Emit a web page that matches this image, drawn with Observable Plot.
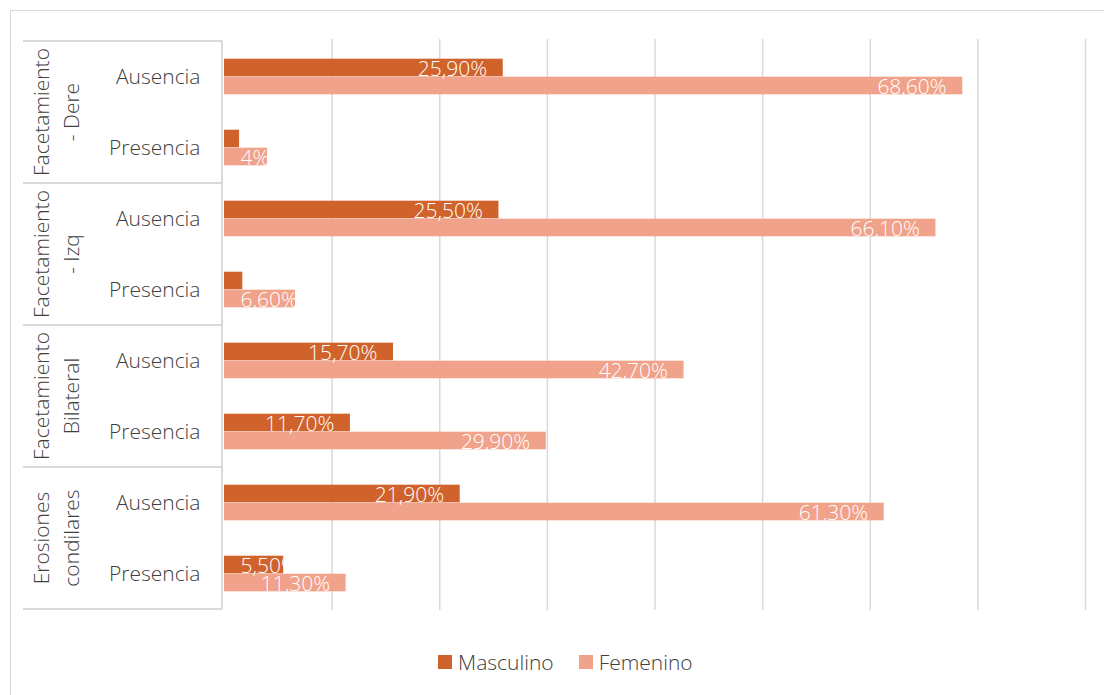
<!DOCTYPE html>
<html>
<head>
<meta charset="utf-8">
<script src="https://cdn.jsdelivr.net/npm/d3@7"></script>
<script src="https://cdn.jsdelivr.net/npm/@observablehq/plot@0.6"></script>
<style>
  html, body { margin: 0; padding: 0; background: #fff; width: 1104px; height: 695px; overflow: hidden; }
  body { position: relative; font-family: "Open Sans", "Noto Sans", sans-serif; }
  #frame { position: absolute; left: 10px; top: 10px; width: 1120px; height: 720px; border: 1.5px solid #d9d9d9; box-sizing: border-box; }
  #chart { position: absolute; left: 0; top: 0; }
  #legend { position: absolute; top: 648px; left: 438px; display: flex; gap: 25px; font-size: 21px; font-weight: 300; color: #404040; }
  #legend .item { display: flex; align-items: center; gap: 6px; }
  #legend .sw { width: 14px; height: 14px; display: inline-block; }
</style>
</head>
<body>
<div id="frame"></div>
<div id="chart"></div>
<div id="legend"></div>
<script>
const groupLines = [["Facetamiento", "- Dere"], ["Facetamiento", "- Izq"], ["Facetamiento", "Bilateral"], ["Erosiones", "condilares"]];
const subs = ["Ausencia", "Presencia"];
const series = ["Masculino", "Femenino"];
const colors = ["#d0632b", "#f0a28a"];
const masculino = [25.9, 1.4, 25.5, 1.7, 15.7, 11.7, 21.9, 5.5];
const femenino = [68.6, 4, 66.1, 6.6, 42.7, 29.9, 61.3, 11.3];
// labels of the two tiniest bars are not legible in the reference (white on white)
const masculinoLabels = ["25,90%", "", "25,50%", "", "15,70%", "11,70%", "21,90%", "5,50%"];
const femeninoLabels = ["68,60%", "4%", "66,10%", "6,60%", "42,70%", "29,90%", "61,30%", "11,30%"];
const xTicks = [0, 10, 20, 30, 40, 50, 60, 70, 80];

const keys = [];
groupLines.forEach((g, gi) => subs.forEach(s => keys.push(gi + "|" + s)));

const data = [];
keys.forEach((k, i) => {
  data.push({key: k, sub: k.split("|")[1], series: series[0], value: masculino[i], label: masculinoLabels[i]});
  data.push({key: k, sub: k.split("|")[1], series: series[1], value: femenino[i], label: femeninoLabels[i]});
});

const W = 1104, H = 695, mt = 39, mb = 85, ml = 224, mr = 19;
const bw = (H - mt - mb) / keys.length;
const barH = 18;

const masc = data.filter(d => d.series === series[0] && d.label);
const fem = data.filter(d => d.series === series[1] && d.label);
const threshold = 8;

const textStyle = {fontSize: 21, fill: "white", fontWeight: 300};

const plot = Plot.plot({
  width: W, height: H,
  marginTop: mt, marginBottom: mb, marginLeft: ml, marginRight: mr,
  style: {fontFamily: "'Open Sans', 'Noto Sans', sans-serif", background: "transparent"},
  x: {domain: [0, 80], axis: null},
  y: {domain: keys, axis: null, padding: 0},
  color: {domain: series, range: colors},
  marks: [
    Plot.ruleX(xTicks.slice(1), {stroke: "#d9d9d9", strokeWidth: 1.5}),
    Plot.barX(data.filter(d => d.series === series[0]), {y: "key", x: "value", fill: "series", insetTop: bw / 2 - barH, insetBottom: bw / 2}),
    Plot.barX(data.filter(d => d.series === series[1]), {y: "key", x: "value", fill: "series", insetTop: bw / 2, insetBottom: bw / 2 - barH}),
    Plot.text(masc.filter(d => d.value >= threshold), {y: "key", x: "value", text: "label", dx: -16, dy: -8, textAnchor: "end", ...textStyle}),
    Plot.text(fem.filter(d => d.value >= threshold), {y: "key", x: "value", text: "label", dx: -16, dy: 10, textAnchor: "end", ...textStyle}),
    Plot.text(masc.filter(d => d.value < threshold), {y: "key", x: 0, text: "label", dx: 16, dy: -8, textAnchor: "start", ...textStyle}),
    Plot.text(fem.filter(d => d.value < threshold), {y: "key", x: 0, text: "label", dx: 16, dy: 10, textAnchor: "start", ...textStyle}),
    Plot.text(data.filter(d => d.series === series[0]), {y: "key", x: 0, text: "sub", dx: -24, textAnchor: "end", fontSize: 21, fontWeight: 300, fill: "#404040"})
  ]
});
document.getElementById("chart").appendChild(plot);

// category table: box lines and rotated group labels, positioned from the y scale
const y = plot.scale("y");
const svg = d3.select(plot);
const x0 = 23, x1 = 222;
const g = svg.append("g");
const boundaries = [];
groupLines.forEach((lines, gi) => {
  const top = y.apply(gi + "|" + subs[0]);
  const bottom = y.apply(gi + "|" + subs[subs.length - 1]) + y.bandwidth;
  boundaries.push(top);
  if (gi === groupLines.length - 1) boundaries.push(bottom);
  const cy = (top + bottom) / 2;
  const t = g.append("text")
    .attr("transform", `translate(${57},${cy}) rotate(-90)`)
    .attr("text-anchor", "middle")
    .attr("font-size", 21).attr("font-weight", 300).attr("fill", "#404040")
    .attr("font-family", "'Open Sans', 'Noto Sans', sans-serif");
  lines.forEach((ln, li) => {
    t.append("tspan").attr("x", 0).attr("y", (li - (lines.length - 1) / 2) * 30 + 7).text(ln);
  });
});
boundaries.forEach(b => {
  g.append("line").attr("x1", x0).attr("x2", x1).attr("y1", b).attr("y2", b)
    .attr("stroke", "#d9d9d9").attr("stroke-width", 2);
});
g.append("line").attr("x1", x1).attr("x2", x1).attr("y1", boundaries[0]).attr("y2", boundaries[boundaries.length - 1])
  .attr("stroke", "#d9d9d9").attr("stroke-width", 2);

// legend
const legend = d3.select("#legend");
series.forEach((s, i) => {
  const it = legend.append("div").attr("class", "item");
  it.append("span").attr("class", "sw").style("background", colors[i]);
  it.append("span").text(s);
});
</script>
</body>
</html>
